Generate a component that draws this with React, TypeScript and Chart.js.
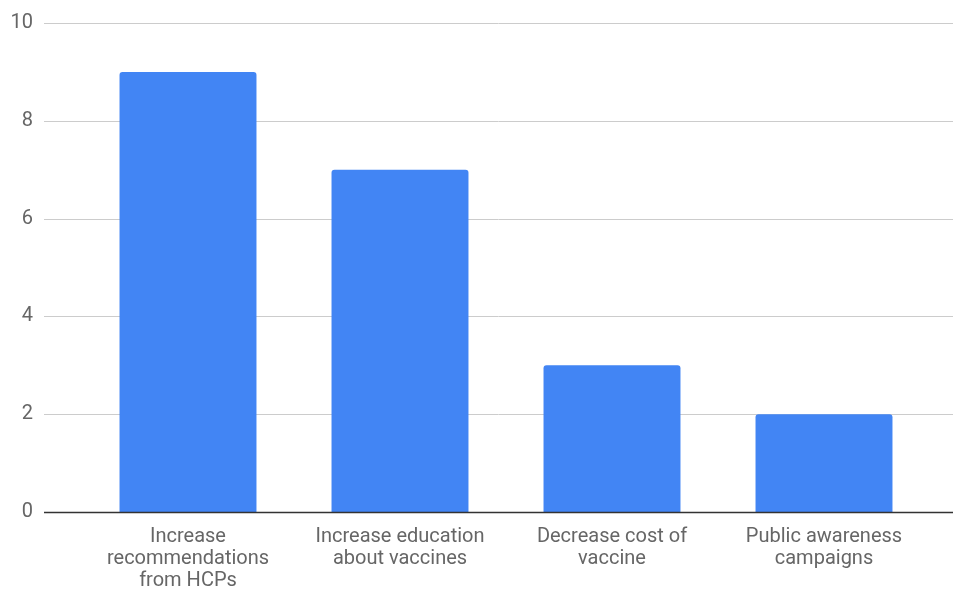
import React, { useEffect, useRef } from "react";
import { Chart, registerables } from "chart.js";

Chart.register(...registerables);

const categories: string[][] = [
  ["Increase", "recommendations", "from HCPs"],
  ["Increase education", "about vaccines"],
  ["Decrease cost of", "vaccine"],
  ["Public awareness", "campaigns"],
];
const values: number[] = [9, 7, 3, 2];
const yTicks: number[] = [0, 2, 4, 6, 8, 10];

const GRID_LEFT = 44;

const gridPlugin = {
  id: "extendedGrid",
  beforeDatasetsDraw(chart: any) {
    const { ctx, scales, width } = chart;
    const y = scales.y;
    ctx.save();
    for (const t of yTicks) {
      if (t === 0) continue;
      const py = Math.round(y.getPixelForValue(t)) + 0.5;
      ctx.beginPath();
      ctx.lineWidth = 1;
      ctx.strokeStyle = "#cccccc";
      ctx.moveTo(GRID_LEFT, py);
      ctx.lineTo(width, py);
      ctx.stroke();
    }
    ctx.restore();
  },
  afterDatasetsDraw(chart: any) {
    const { ctx, scales, width } = chart;
    const py = Math.round(scales.y.getPixelForValue(0)) + 0.5;
    ctx.save();
    ctx.beginPath();
    ctx.lineWidth = 1.5;
    ctx.strokeStyle = "#333333";
    ctx.moveTo(GRID_LEFT, py);
    ctx.lineTo(width, py);
    ctx.stroke();
    ctx.restore();
  },
};

export default function App() {
  const ref = useRef<HTMLCanvasElement | null>(null);
  useEffect(() => {
    if (!ref.current) return;
    const chart = new Chart(ref.current, {
      type: "bar",
      data: {
        labels: categories,
        datasets: [
          {
            data: values,
            backgroundColor: "#4285F4",
            borderRadius: { topLeft: 3, topRight: 3, bottomLeft: 0, bottomRight: 0 },
            borderSkipped: "bottom",
            categoryPercentage: 1,
            barPercentage: 0.646,
          },
        ],
      },
      options: {
        animation: false,
        responsive: false,
        maintainAspectRatio: false,
        layout: { padding: { top: 23, right: 23, bottom: 0, left: 0 } },
        plugins: { legend: { display: false }, tooltip: { enabled: false } },
        scales: {
          x: {
            grid: { display: false },
            border: { display: false },
            afterFit: (s: any) => {
              s.height = 79;
            },
            ticks: {
              color: "#666666",
              font: { family: "Roboto", size: 20, lineHeight: 1.1 },
              padding: 6,
              maxRotation: 0,
              autoSkip: false,
            },
          },
          y: {
            min: 0,
            max: 10,
            grid: { display: false },
            border: { display: false },
            afterFit: (s: any) => {
              s.width = 82;
              s.paddingTop = 0;
              s.paddingBottom = 0;
            },
            afterBuildTicks: (s: any) => {
              s.ticks = yTicks.map((v) => ({ value: v }));
            },
            ticks: {
              color: "#666666",
              font: { family: "Roboto", size: 20 },
              padding: 41,
            },
          },
        },
      },
      plugins: [gridPlugin],
    });
    return () => chart.destroy();
  }, []);
  return (
    <div style={{ position: "fixed", left: 0, top: 0, width: 953, height: 591, background: "#fff" }}>
      <canvas ref={ref} width={953} height={591} style={{ width: 953, height: 591 }} />
    </div>
  );
}
